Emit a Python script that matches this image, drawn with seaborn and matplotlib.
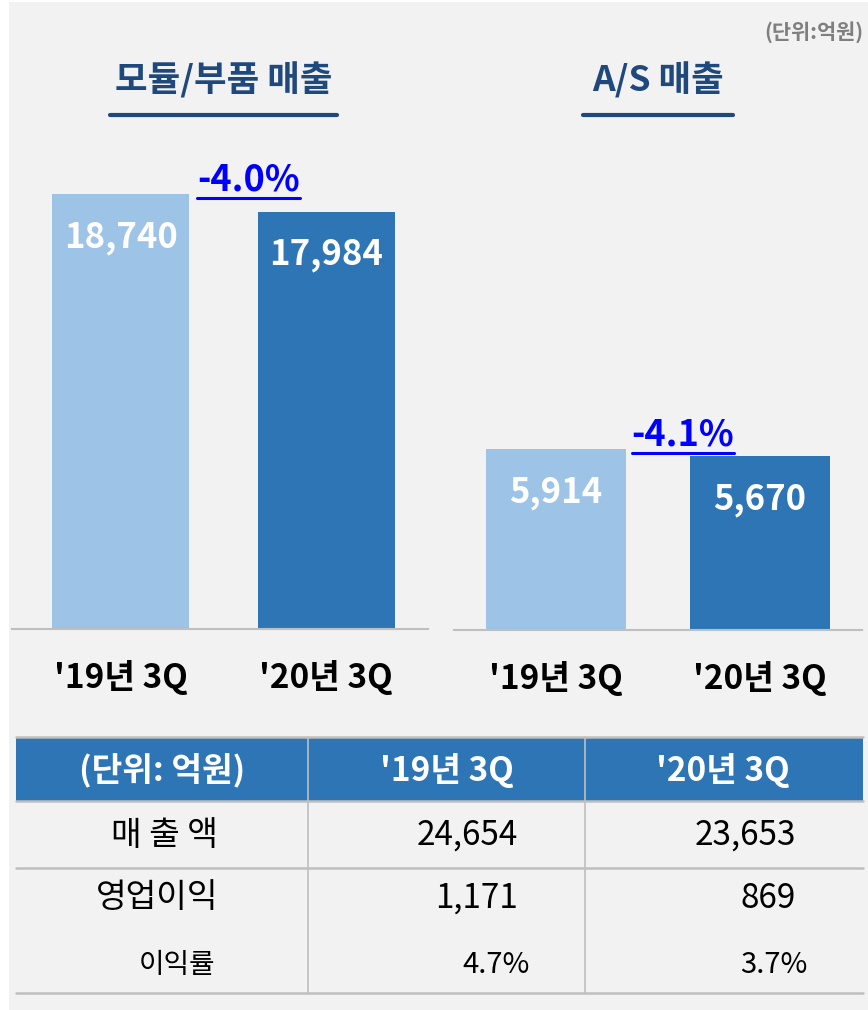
import matplotlib
matplotlib.use("Agg")
import matplotlib.pyplot as plt
import seaborn as sns
import pandas as pd
from matplotlib.lines import Line2D
from matplotlib.patches import Rectangle

# ---------------- data ----------------
periods = ["'19년 3Q", "'20년 3Q"]
module_sales = [18740, 17984]
as_sales = [5914, 5670]
module_change = "-4.0%"
as_change = "-4.1%"
chart_titles = ["모듈/부품 매출", "A/S 매출"]
unit_note = "(단위:억원)"

table_header = ["(단위: 억원)", "'19년 3Q", "'20년 3Q"]
row_labels = ["매 출 액", "영업이익", "이익률"]
revenue = ["24,654", "23,653"]
op_profit = ["1,171", "869"]
margin = ["4.7%", "3.7%"]

# ---------------- style ----------------
sns.set_theme(style="white")
FONT = ["Noto Sans CJK KR", "DejaVu Sans"]
plt.rcParams["font.family"] = FONT

BG = "#f2f2f2"
LIGHT = "#9dc3e6"
DARK = "#2e75b6"
NAVY = "#1f497d"
LINEGRAY = "#bfbfbf"

W, H = 868, 1010
fig = plt.figure(figsize=(W / 100, H / 100), dpi=100)
fig.patch.set_facecolor("white")
fig.patches.append(Rectangle((9 / W, 0), 1 - 9 / W, 1 - 2 / H, transform=fig.transFigure,
                             facecolor=BG, edgecolor="none", zorder=-10))


def px_axes(x0, x1, ytop, ybot):
    return fig.add_axes([x0 / W, 1 - ybot / H, (x1 - x0) / W, (ybot - ytop) / H])


def bar_chart(ax, values, change, xlim, ylim, width):
    df = pd.DataFrame({"period": periods, "value": values})
    sns.barplot(data=df, x="period", y="value", hue="period",
                palette=[LIGHT, DARK], width=width, legend=False, ax=ax,
                saturation=1, linewidth=0)
    ax.set_facecolor("none")
    ax.set_xlim(*xlim)
    ax.set_ylim(*ylim)
    ax.set_xlabel("")
    ax.set_ylabel("")
    ax.set_yticks([])
    for s in ["top", "left", "right"]:
        ax.spines[s].set_visible(False)
    ax.spines["bottom"].set_color(LINEGRAY)
    ax.spines["bottom"].set_linewidth(1.5)
    ax.tick_params(axis="x", length=0, pad=22)
    for lab in ax.get_xticklabels():
        lab.set_fontsize(24)
        lab.set_fontweight("bold")
        lab.set_color("black")
    for i, v in enumerate(values):
        ax.annotate(f"{v:,}", (i, v), xytext=(0, -31), textcoords="offset points",
                    ha="center", va="center", color="white", fontsize=25,
                    fontweight="bold")
    t = ax.annotate(change, (0.5, max(values)), xytext=(18, 10), textcoords="offset points",
                    ha="center", va="center", color="#0000ff", fontsize=26,
                    fontweight="bold")
    return t


ax1 = px_axes(12, 428, 130, 629)
ax2 = px_axes(454, 862, 130, 630)
t1 = bar_chart(ax1, module_sales, module_change, (-0.528, 1.496), (0, 21500), 0.667)
t2 = bar_chart(ax2, as_sales, as_change, (-0.5, 1.5), (0, 16340), 0.686)

# titles
fig.text(224 / W, 1 - 80 / H, chart_titles[0], ha="center", va="center",
         fontsize=25.5, fontweight="bold", color=NAVY)
fig.text(658 / W, 1 - 80 / H, chart_titles[1], ha="center", va="center",
         fontsize=25.5, fontweight="bold", color=NAVY)
for x0, x1 in [(110, 337), (583, 733)]:
    fig.add_artist(Line2D([x0 / W, x1 / W], [1 - 115 / H] * 2, transform=fig.transFigure,
                          color=NAVY, linewidth=3))
fig.text(863 / W, 1 - 32 / H, unit_note, ha="right", va="center",
         fontsize=15, fontweight="bold", color="#7f7f7f")

# underline change labels
fig.canvas.draw()
renderer = fig.canvas.get_renderer()
for t in (t1, t2):
    bb = t.get_window_extent(renderer)
    yline = bb.y0 + 1
    fig.add_artist(Line2D([bb.x0 / W, bb.x1 / W], [yline / H] * 2,
                          transform=fig.transFigure, color="#0000ff", linewidth=2.2))

# ---------------- table ----------------
tx = fig.add_axes([0, 0, 1, 1])
tx.set_xlim(0, W)
tx.set_ylim(H, 0)
tx.axis("off")
tx.patch.set_alpha(0)

col_edges = [16, 308, 585, 863]
row_edges = [737, 801, 868, 993]
tx.add_patch(Rectangle((col_edges[0], row_edges[0]), col_edges[-1] - col_edges[0],
                       row_edges[1] - row_edges[0], facecolor=DARK, edgecolor="none"))
for y in row_edges:
    tx.plot([col_edges[0], col_edges[-1]], [y, y], color=LINEGRAY, lw=1.8)
for x in col_edges[1:-1]:
    tx.plot([x, x], [row_edges[0], row_edges[-1]], color=LINEGRAY, lw=1.2)

hdr_x = [162, 447, 723]
for x, s in zip(hdr_x, table_header):
    tx.text(x, 770, s, ha="center", va="center", color="white", fontsize=24,
            fontweight="bold")

tx.text(164, 835, row_labels[0], ha="center", va="center", fontsize=24, color="black")
tx.text(157, 898, row_labels[1], ha="center", va="center", fontsize=24, color="black")
tx.text(177, 965, row_labels[2], ha="center", va="center", fontsize=20, color="black")
for x, s in zip([518, 796], revenue):
    tx.text(x, 835, s, ha="right", va="center", fontsize=24, color="black")
for x, s in zip([518, 796], op_profit):
    tx.text(x, 898, s, ha="right", va="center", fontsize=24, color="black")
for x, s in zip([530, 808], margin):
    tx.text(x, 965, s, ha="right", va="center", fontsize=21, color="black")

fig.savefig("out.png", dpi=100, facecolor=fig.get_facecolor())
